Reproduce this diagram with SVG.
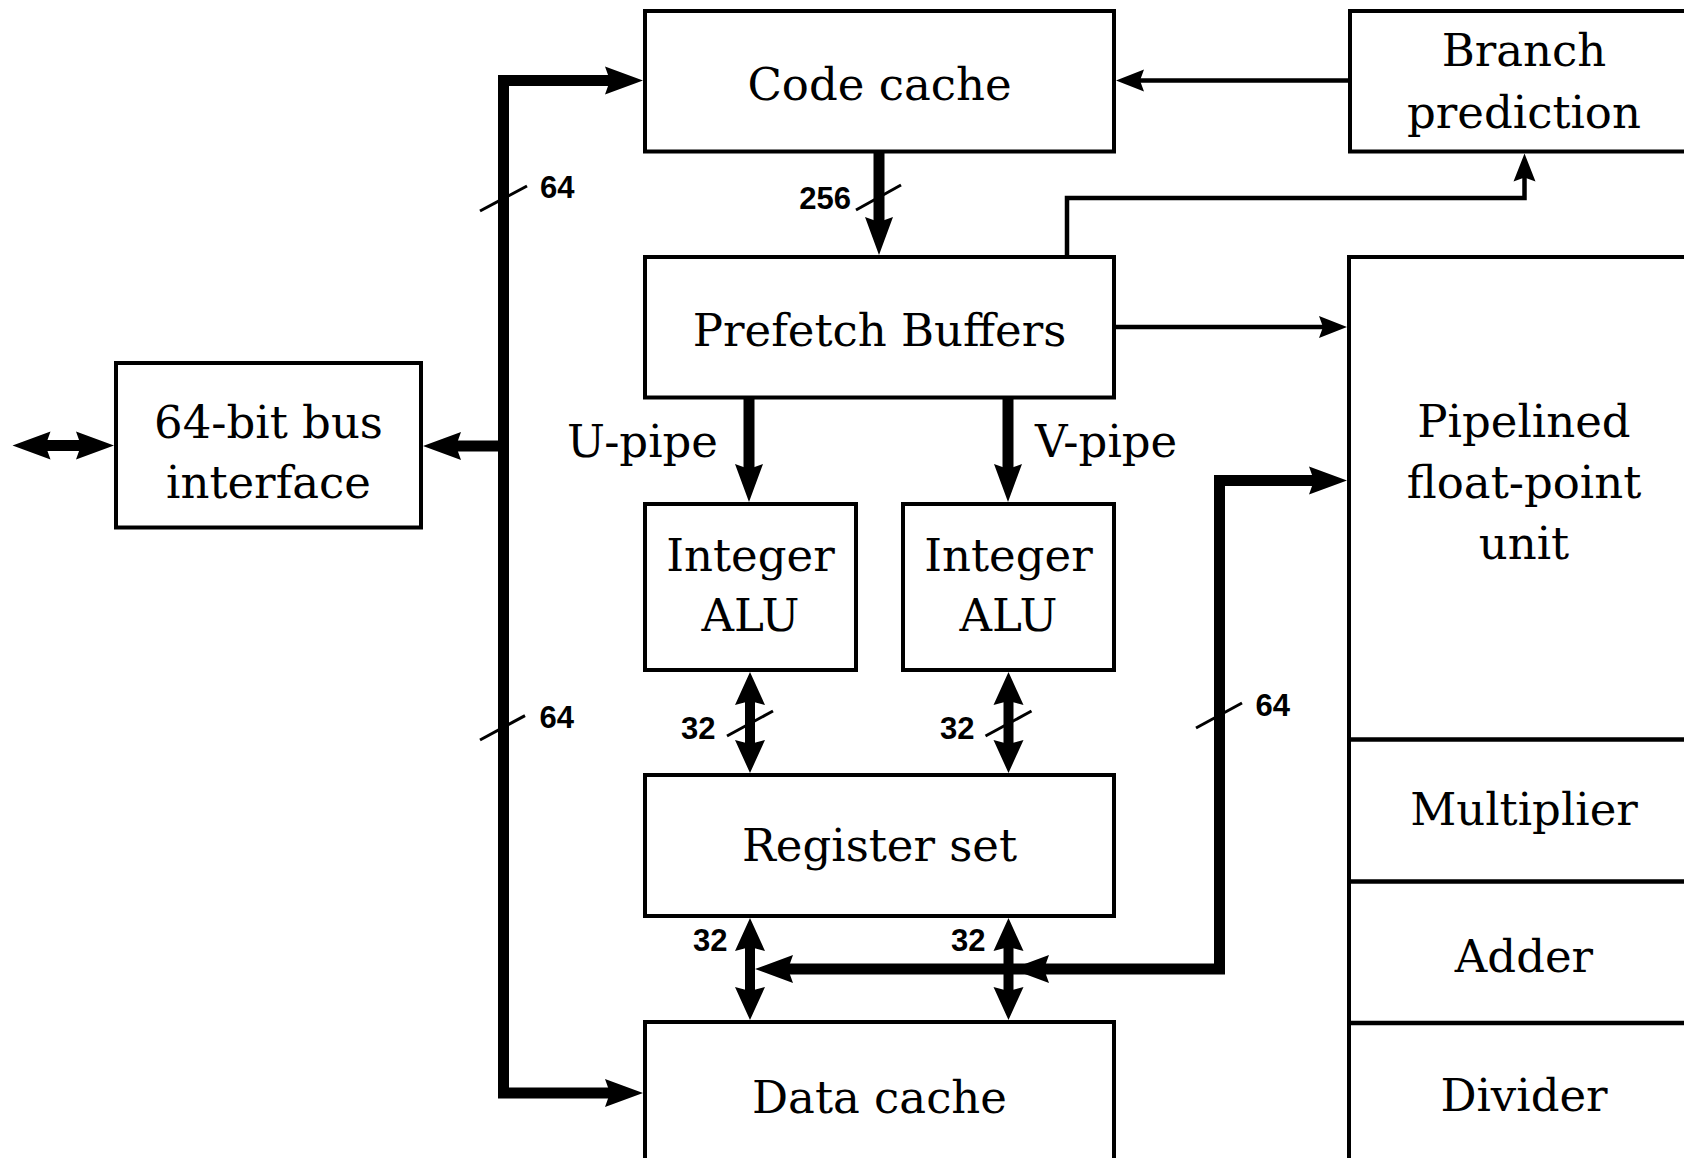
<svg xmlns="http://www.w3.org/2000/svg" width="1684" height="1158" viewBox="0 0 1684 1158">
<style>
.box{fill:#fff;stroke:#000;stroke-width:4}
.div{stroke:#000;stroke-width:4.5}
.t{font-family:"DejaVu Serif",serif;font-size:45px;fill:#000;text-anchor:middle}
.n{font-family:"Liberation Sans",Arial,sans-serif;font-weight:bold;font-size:31px;fill:#000}
.thin{fill:none;stroke:#000;stroke-width:4.5}
.thick{fill:none;stroke:#000;stroke-width:11;stroke-linejoin:miter}
.bi{fill:none;stroke:#000;stroke-width:10}
.sl{stroke:#000;stroke-width:3}
</style>
<defs>
<path id="ahK" d="M0,0 L-38,-14 L-33,0 L-38,14 Z" fill="#000"/>
<path id="ahB" d="M0,0 L-33,-15 L-29,0 L-33,15 Z" fill="#000"/>
<path id="ahT" d="M0,0 L-28,-11 L-24,0 L-28,11 Z" fill="#000"/>
</defs>
<rect width="1684" height="1158" fill="#fff"/>

<g id="bus-interface">
<rect class="box" x="116" y="363" width="305" height="164.5"/>
<text class="t" x="268.5" y="437.5">64-bit bus</text>
<text class="t" x="268.5" y="498">interface</text>
</g>
<g id="code-cache">
<rect class="box" x="645" y="11" width="469" height="140.5"/>
<text class="t" x="879.5" y="100">Code cache</text>
</g>
<g id="branch-prediction">
<rect class="box" x="1350" y="11" width="360" height="140.5"/>
<text class="t" x="1524" y="66">Branch</text>
<text class="t" x="1524" y="128">prediction</text>
</g>
<g id="prefetch-buffers">
<rect class="box" x="645" y="257" width="469" height="140.5"/>
<text class="t" x="879.5" y="346">Prefetch Buffers</text>
</g>
<g id="alu-u">
<rect class="box" x="645" y="504" width="211" height="166"/>
<text class="t" x="750.5" y="571">Integer</text>
<text class="t" x="750.5" y="630.5">ALU</text>
</g>
<g id="alu-v">
<rect class="box" x="903" y="504" width="211" height="166"/>
<text class="t" x="1008.5" y="571">Integer</text>
<text class="t" x="1008.5" y="630.5">ALU</text>
</g>
<g id="register-set">
<rect class="box" x="645" y="775" width="469" height="141"/>
<text class="t" x="879.5" y="861">Register set</text>
</g>
<g id="data-cache">
<rect class="box" x="645" y="1022" width="469" height="200"/>
<text class="t" x="879.5" y="1113">Data cache</text>
</g>
<g id="fpu">
<rect class="box" x="1349" y="257" width="360" height="960"/>
<line class="div" x1="1349" y1="739.5" x2="1709" y2="739.5"/>
<line class="div" x1="1349" y1="881.5" x2="1709" y2="881.5"/>
<line class="div" x1="1349" y1="1023" x2="1709" y2="1023"/>
<text class="t" x="1524" y="437">Pipelined</text>
<text class="t" x="1524" y="498">float-point</text>
<text class="t" x="1524" y="559">unit</text>
<text class="t" x="1524" y="825">Multiplier</text>
<text class="t" x="1524" y="972">Adder</text>
<text class="t" x="1524" y="1111">Divider</text>
</g>

<g id="connectors">
<path class="thick" d="M613 80.4 H503.5 V1093 H613"/>
<use href="#ahK" transform="translate(643,80.4)"/>
<use href="#ahK" transform="translate(643,1093)"/>
<path class="thick" d="M503.5 446 H452"/>
<use href="#ahK" transform="translate(423,446) rotate(180)"/>
<path class="thick" d="M42 445.5 H85"/>
<use href="#ahK" transform="translate(12.5,445.5) rotate(180)"/>
<use href="#ahK" transform="translate(114,445.5)"/>
<path class="thick" d="M879 153 V225"/>
<use href="#ahK" transform="translate(879,255) rotate(90)"/>
<path class="thick" d="M749 399 V470"/>
<use href="#ahK" transform="translate(749,502) rotate(90)"/>
<path class="thick" d="M1008 399 V470"/>
<use href="#ahK" transform="translate(1008,502) rotate(90)"/>
<path class="bi" d="M750 698 V747"/>
<use href="#ahB" transform="translate(750,672) rotate(-90)"/>
<use href="#ahB" transform="translate(750,773) rotate(90)"/>
<path class="bi" d="M1008.5 698 V747"/>
<use href="#ahB" transform="translate(1008.5,672) rotate(-90)"/>
<use href="#ahB" transform="translate(1008.5,773) rotate(90)"/>
<path class="bi" d="M750 944 V994"/>
<use href="#ahB" transform="translate(750,918) rotate(-90)"/>
<use href="#ahB" transform="translate(750,1020) rotate(90)"/>
<path class="bi" d="M1008.5 944 V994"/>
<use href="#ahB" transform="translate(1008.5,918) rotate(-90)"/>
<use href="#ahB" transform="translate(1008.5,1020) rotate(90)"/>
<path class="thick" d="M1316 480.4 H1219.5 V969 H786"/>
<use href="#ahK" transform="translate(1347,480.4)"/>
<use href="#ahK" transform="translate(755,969) rotate(180)"/>
<use href="#ahK" transform="translate(1011,969) rotate(180)"/>
<path class="thin" d="M1348 80.5 H1138"/>
<use href="#ahT" transform="translate(1116,80.5) rotate(180)"/>
<path class="thin" d="M1067 255 V198 H1524.5 V176"/>
<use href="#ahT" transform="translate(1524.5,153.5) rotate(-90)"/>
<path class="thin" d="M1116 327 H1324"/>
<use href="#ahT" transform="translate(1347,327)"/>
</g>

<g id="labels">
<text class="t" x="567" y="457" style="text-anchor:start">U-pipe</text>
<text class="t" x="1035" y="457" style="text-anchor:start">V-pipe</text>
<line class="sl" x1="480" y1="211" x2="527" y2="186"/>
<text class="n" x="540" y="198">64</text>
<line class="sl" x1="480" y1="740" x2="525" y2="715.6"/>
<text class="n" x="539.5" y="728">64</text>
<line class="sl" x1="1196" y1="728" x2="1242" y2="703"/>
<text class="n" x="1255.5" y="716">64</text>
<line class="sl" x1="856" y1="210" x2="901" y2="185"/>
<text class="n" x="851" y="209" style="text-anchor:end">256</text>
<line class="sl" x1="727" y1="736" x2="773" y2="711"/>
<text class="n" x="681" y="739">32</text>
<line class="sl" x1="985.5" y1="736" x2="1031.5" y2="711"/>
<text class="n" x="940" y="739">32</text>
<text class="n" x="693" y="951">32</text>
<text class="n" x="951" y="951">32</text>
</g>
</svg>
